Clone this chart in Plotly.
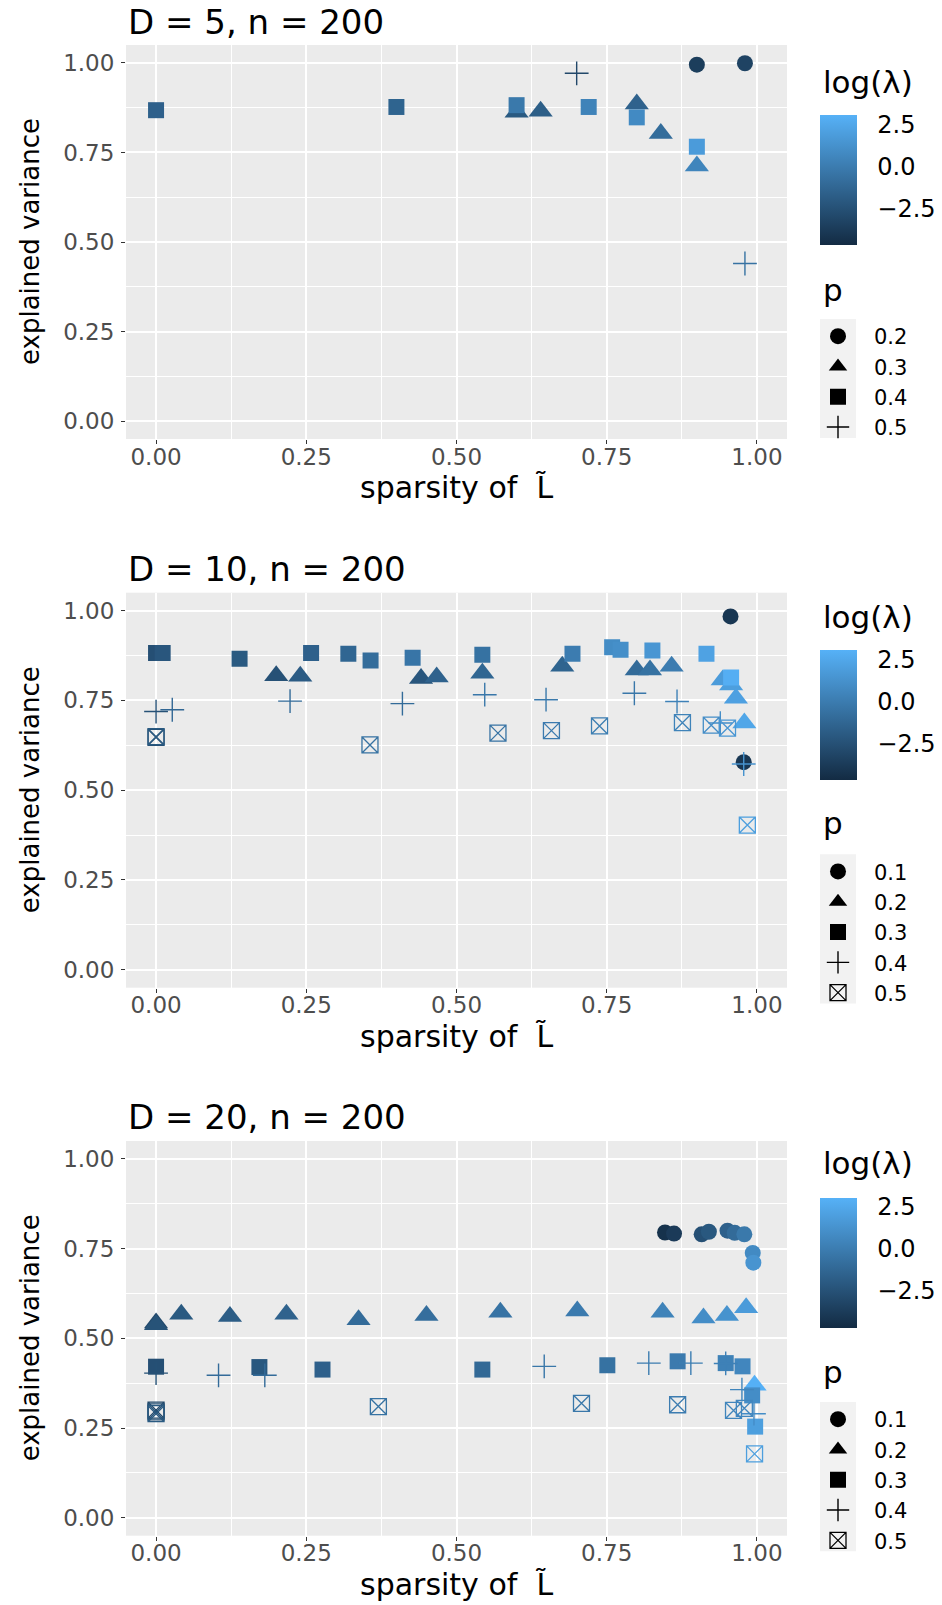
import plotly.graph_objects as go

# ---------------- data ----------------
# D = 5, n = 200
d5_sparsity = [0.00, 0.40, 0.60, 0.60, 0.64, 0.70, 0.72, 0.80, 0.80, 0.84, 0.90, 0.98, 0.90, 0.90, 0.98]
d5_explained = [0.868, 0.877, 0.862, 0.882, 0.865, 0.971, 0.877, 0.885, 0.848, 0.803, 0.995, 0.999, 0.766, 0.712, 0.440]
d5_loglambda = [-1.6, -1.4, -2.0, -0.2, -1.7, -3.0, 0.4, -1.5, 0.8, -0.9, -3.6, -3.3, 1.8, 0.5, -0.6]
d5_p = [0.4, 0.4, 0.3, 0.4, 0.3, 0.5, 0.4, 0.3, 0.4, 0.3, 0.2, 0.2, 0.4, 0.3, 0.5]

# D = 10, n = 200
d10_sparsity = [0.000, 0.011, 0.139, 0.200, 0.240, 0.258, 0.320, 0.357, 0.427, 0.441, 0.467,
                0.000, 0.027, 0.223, 0.410, 0.000, 0.000, 0.356,
                0.543, 0.543, 0.547, 0.569, 0.676, 0.693, 0.649, 0.658, 0.738,
                0.759, 0.773, 0.800, 0.822, 0.826, 0.858, 0.796, 0.867, 0.876,
                0.916, 0.956, 0.943, 0.957, 0.957, 0.965, 0.979, 0.924, 0.951, 0.939,
                0.978, 0.978, 0.984]
d10_explained = [0.882, 0.882, 0.866, 0.819, 0.817, 0.882, 0.880, 0.861, 0.869, 0.811, 0.815,
                 0.719, 0.724, 0.748, 0.741, 0.647, 0.649, 0.626,
                 0.877, 0.826, 0.766, 0.659, 0.845, 0.880, 0.752, 0.666, 0.679,
                 0.898, 0.891, 0.835, 0.835, 0.889, 0.845, 0.770, 0.747, 0.688,
                 0.880, 0.984, 0.807, 0.793, 0.814, 0.756, 0.687, 0.681, 0.673, 0.687,
                 0.578, 0.573, 0.403]
d10_loglambda = [-2.6, -2.2, -2.0, -2.5, -1.9, -1.6, -1.3, -0.9, -0.4, -2.2, -1.5,
                 -2.5, -1.2, -1.0, -1.0, -2.6, -2.0, -0.6,
                 -0.6, -1.3, -0.3, -0.5, -1.4, 0.0, -0.2, -0.1, 0.1,
                 0.9, 1.1, -1.0, -0.6, 1.5, 0.0, -0.3, 0.3, 0.4,
                 2.2, -4.0, 1.8, 2.0, 2.9, 2.1, 2.4, 1.0, 1.5, 1.0,
                 -4.0, 1.3, 2.0]
d10_p = [0.3, 0.3, 0.3, 0.2, 0.2, 0.3, 0.3, 0.3, 0.3, 0.2, 0.2,
         0.4, 0.4, 0.4, 0.4, 0.5, 0.5, 0.5,
         0.3, 0.2, 0.4, 0.5, 0.2, 0.3, 0.4, 0.5, 0.5,
         0.3, 0.3, 0.2, 0.2, 0.3, 0.2, 0.4, 0.4, 0.5,
         0.3, 0.1, 0.2, 0.2, 0.3, 0.2, 0.2, 0.5, 0.5, 0.4,
         0.1, 0.4, 0.5]

# D = 20, n = 200
d20_sparsity = [0.000, 0.000, 0.042, 0.123, 0.217, 0.337, 0.450, 0.573, 0.701, 0.843, 0.911, 0.950, 0.982, 0.996,
                0.000, 0.172, 0.277, 0.543, 0.751, 0.868, 0.948, 0.976, 0.992, 0.997,
                0.000, 0.104, 0.181, 0.646, 0.820, 0.890, 0.948, 0.975, 0.995,
                0.000, 0.000, 0.000, 0.370, 0.708, 0.868, 0.961, 0.979, 0.996,
                0.847, 0.862, 0.908, 0.920, 0.951, 0.963, 0.979, 0.993, 0.994]
d20_explained = [0.543, 0.538, 0.567, 0.561, 0.567, 0.552, 0.564, 0.573, 0.576, 0.573, 0.557, 0.564, 0.585, 0.369,
                 0.421, 0.420, 0.413, 0.413, 0.425, 0.436, 0.431, 0.422, 0.341, 0.254,
                 0.403, 0.397, 0.397, 0.422, 0.431, 0.431, 0.430, 0.357, 0.290,
                 0.300, 0.295, 0.290, 0.310, 0.319, 0.315, 0.299, 0.305, 0.178,
                 0.795, 0.792, 0.790, 0.797, 0.800, 0.794, 0.790, 0.738, 0.711]
d20_loglambda = [-3.0, -2.4, -2.0, -1.8, -1.5, -1.0, -0.8, -0.5, -0.1, 0.4, 1.0, 1.3, 1.8, 3.0,
                 -2.6, -2.1, -1.6, -1.1, -0.6, -0.1, 0.3, 0.6, 1.0, 2.0,
                 -2.5, -1.0, -1.0, -0.3, 0.0, 0.1, 0.3, 0.5, 1.0,
                 -3.0, -2.5, -2.0, -0.6, -0.3, 0.0, 0.5, 0.6, 2.0,
                 -4.3, -3.8, -2.6, -2.1, -1.6, -1.0, -0.2, 0.8, 1.4]
d20_p = [0.2] * 14 + [0.3] * 10 + [0.4] * 9 + [0.5] * 9 + [0.1] * 9

panel_titles = ["D = 5, n = 200", "D = 10, n = 200", "D = 20, n = 200"]
panel_sparsity = [d5_sparsity, d10_sparsity, d20_sparsity]
panel_explained = [d5_explained, d10_explained, d20_explained]
panel_loglambda = [d5_loglambda, d10_loglambda, d20_loglambda]
panel_p = [d5_p, d10_p, d20_p]

loglambda_limits = (-4.69, 3.06)
colorbar_ticks = [-2.5, 0.0, 2.5]
axis_ticks = [0.0, 0.25, 0.5, 0.75, 1.0]

# ---------------- styling ----------------
W, H = 942, 1605
FONT = "DejaVu Sans"
LOW, HIGH = "#132B43", "#56B1F7"

# marker style for each rank of p level (circle, triangle, square, plus, boxed x)
SYMBOLS = ["circle", "triangle-up", "square", "cross-thin-open", "square-x-open"]
SIZES = [16, 21, 16, 17, 16]
LINEW = [0, 0, 0, 1.4, 1.3]

plot_left, plot_right = 126, 787
panel_top = [45, 592.7, 1141]
panel_bottom = [439, 987.7, 1535.7]
title_y = [22, 569, 1117]
bar_top = [115, 650, 1197.7]
bar_len = 129.5
bar_left, bar_w = 820, 37
cb_title_y = [82, 617, 1163]
p_title_y = [290, 823, 1371.7]
first_key_y = [333, 868.3, 1416]
item_h = 30.3


def fx(px):
    return px / W


def fy(py):
    return 1 - py / H


fig = go.Figure()
layout = dict(
    width=W, height=H, margin=dict(l=0, r=0, t=0, b=0),
    paper_bgcolor="white", plot_bgcolor="#EBEBEB",
    font=dict(family=FONT, color="black"),
    showlegend=True, annotations=[], shapes=[],
)

for k in range(3):
    sfx = "" if k == 0 else str(k + 1)
    xa, ya = "x" + sfx, "y" + sfx
    cax = "coloraxis" + sfx
    leg = "legend" + sfx
    xs, ys, cs, ps = panel_sparsity[k], panel_explained[k], panel_loglambda[k], panel_p[k]
    levels = sorted(set(ps))

    for r, lvl in enumerate(levels):
        idx = [i for i, v in enumerate(ps) if v == lvl]
        fig.add_trace(go.Scatter(
            x=[xs[i] for i in idx], y=[ys[i] for i in idx], mode="markers",
            xaxis=xa, yaxis=ya, showlegend=False, hoverinfo="skip",
            marker=dict(symbol=SYMBOLS[r], size=SIZES[r],
                        color=[cs[i] for i in idx], coloraxis=cax,
                        line=dict(width=LINEW[r])),
        ))
    # shape legend entries (black keys)
    for r, lvl in enumerate(levels):
        fig.add_trace(go.Scatter(
            x=[None], y=[None], mode="markers", xaxis=xa, yaxis=ya,
            name=f"{lvl:.1f}", legend=leg, showlegend=True,
            marker=dict(symbol=SYMBOLS[r], size=min(SIZES[r], 16), color="black",
                        line=dict(width=LINEW[r], color="black")),
        ))

    dom_y = [fy(panel_bottom[k]), fy(panel_top[k])]
    axis_style = dict(
        showline=False, zeroline=False, showgrid=True, gridcolor="white", gridwidth=1.6,
        ticks="outside", ticklen=4, tickwidth=1.1, tickcolor="#333333",
        tickfont=dict(family=FONT, size=23, color="#4D4D4D"),
        tickmode="array", tickvals=axis_ticks, ticktext=[f"{v:.2f}" for v in axis_ticks],
        minor=dict(showgrid=True, gridcolor="white", gridwidth=0.8, tickmode="linear",
                   tick0=0.125, dtick=0.25, ticks=""),
        fixedrange=True,
    )
    layout["xaxis" + sfx] = dict(axis_style, domain=[fx(plot_left), fx(plot_right)],
                                 range=[-0.05, 1.05], anchor=ya, ticklabelstandoff=-7)
    layout["yaxis" + sfx] = dict(axis_style, domain=dom_y, range=[-0.05, 1.05], anchor=xa,
                                 ticklabelstandoff=2)

    layout[cax] = dict(
        colorscale=[[0, LOW], [1, HIGH]], cmin=loglambda_limits[0], cmax=loglambda_limits[1],
        colorbar=dict(
            x=fx(bar_left), xanchor="left", y=fy(bar_top[k]), yanchor="top",
            len=bar_len, lenmode="pixels", thickness=bar_w, thicknessmode="pixels",
            xpad=0, ypad=0, outlinewidth=0,
            tickmode="array", tickvals=colorbar_ticks, tickformat=".1f",
            ticks="outside", ticklen=16, tickcolor="rgba(0,0,0,0)",
            tickfont=dict(family=FONT, size=24, color="black"),
        ),
    )
    layout[leg] = dict(
        x=fx(802), y=fy(first_key_y[k] - 17), xanchor="left", yanchor="top",
        bgcolor="rgba(0,0,0,0)", borderwidth=0, itemwidth=62,
        font=dict(family=FONT, size=21, color="black"), tracegroupgap=0,
        itemclick=False, itemdoubleclick=False,
    )

    # grey background behind the legend keys
    n = len(levels)
    layout["shapes"].append(dict(
        type="rect", xref="paper", yref="paper", layer="below",
        x0=fx(bar_left), x1=fx(bar_left + 36),
        y0=fy(first_key_y[k] - 14), y1=fy(first_key_y[k] + (n - 1) * item_h + 14),
        fillcolor="#F2F2F2", line=dict(width=0),
    ))
    # white tick marks on the colour bar
    span = loglambda_limits[1] - loglambda_limits[0]
    for v in colorbar_ticks:
        ty = bar_top[k] + (loglambda_limits[1] - v) / span * bar_len
        for x0, x1 in [(bar_left, bar_left + 7), (bar_left + bar_w - 7, bar_left + bar_w)]:
            layout["shapes"].append(dict(
                type="line", xref="paper", yref="paper", layer="above",
                x0=fx(x0), x1=fx(x1), y0=fy(ty), y1=fy(ty),
                line=dict(color="white", width=1.2),
            ))

    layout["annotations"] += [
        dict(text=panel_titles[k], x=fx(plot_left), y=fy(title_y[k]), xref="paper", yref="paper",
             xanchor="left", yanchor="middle", showarrow=False,
             font=dict(family=FONT, size=34, color="black")),
        dict(text="sparsity of\u00a0\u00a0L\u0303", x=fx((plot_left + plot_right) / 2),
             y=fy(panel_bottom[k] + 49), xref="paper", yref="paper",
             xanchor="center", yanchor="middle", showarrow=False,
             font=dict(family=FONT, size=30, color="black")),
        dict(text="explained variance", x=fx(30), y=fy((panel_top[k] + panel_bottom[k]) / 2),
             xref="paper", yref="paper", xanchor="center", yanchor="middle",
             textangle=-90, showarrow=False,
             font=dict(family=FONT, size=26, color="black")),
        dict(text="log(\u03bb)", x=fx(bar_left + 1), y=fy(cb_title_y[k]), xref="paper", yref="paper",
             xanchor="left", yanchor="middle", showarrow=False,
             font=dict(family=FONT, size=31, color="black")),
        dict(text="p", x=fx(bar_left + 1), y=fy(p_title_y[k]), xref="paper", yref="paper",
             xanchor="left", yanchor="middle", showarrow=False,
             font=dict(family=FONT, size=31, color="black")),
    ]

fig.update_layout(**layout)
fig.write_html("out.html")
